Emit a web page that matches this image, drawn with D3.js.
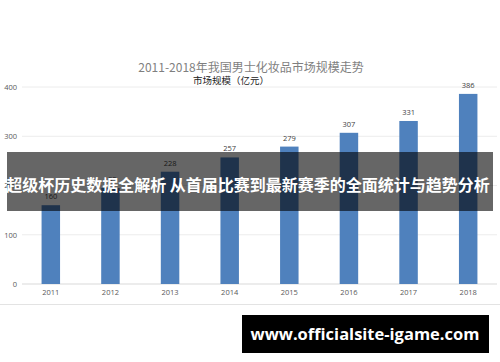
<!DOCTYPE html>
<html>
<head>
<meta charset="utf-8">
<script src="https://cdn.jsdelivr.net/npm/d3@7"></script>
<style>
  body { margin: 0; background: #fff; }
  svg { display: block; }
</style>
</head>
<body>
<svg id="chart" width="500" height="362"></svg>
<script>
const years = ["2011", "2012", "2013", "2014", "2015", "2016", "2017", "2018"];
const marketSize = [160, 195, 228, 257, 279, 307, 331, 386];
const yTicks = [0, 100, 200, 300, 400];
const chartTitle = "2011-2018年我国男士化妆品市场规模走势";
const seriesName = "市场规模（亿元）";
const bannerText = "超级杯历史数据全解析 从首届比赛到最新赛季的全面统计与趋势分析";
const siteText = "www.officialsite-igame.com";

const svg = d3.select("#chart");
const width = 500, height = 362;
const margin = {top: 87, right: 2, bottom: 78, left: 21};

const cjk = "'Noto Sans CJK SC', 'Noto Sans', sans-serif";
const latin = "'Open Sans', 'Liberation Sans', sans-serif";

const x = d3.scaleBand()
    .domain(years)
    .range([margin.left, width - margin.right])
    .paddingInner(0.69)
    .paddingOuter(0.345);

const y = d3.scaleLinear()
    .domain([0, 400])
    .range([height - margin.bottom, margin.top]);

// gridlines
svg.append("g")
    .selectAll("line")
    .data(yTicks)
    .join("line")
      .attr("x1", 22)
      .attr("x2", 497)
      .attr("y1", d => y(d))
      .attr("y2", d => y(d))
      .attr("stroke", d => d === 0 ? "#d9d9d9" : "#ececec")
      .attr("stroke-width", 1);

// y axis labels
const yAxis = d3.axisLeft(y).tickValues(yTicks).tickSize(0).tickPadding(0);
svg.append("g")
    .attr("transform", "translate(17,0)")
    .call(yAxis)
    .call(g => g.select(".domain").remove())
    .call(g => g.selectAll("text")
        .attr("fill", "#595959")
        .style("font-family", latin)
        .style("font-size", "7.5px"));

// x axis labels
const xAxis = d3.axisBottom(x).tickSize(0).tickPadding(0);
svg.append("g")
    .attr("transform", "translate(0," + (y(0) + 6) + ")")
    .call(xAxis)
    .call(g => g.select(".domain").remove())
    .call(g => g.selectAll("text")
        .attr("fill", "#595959")
        .style("font-family", latin)
        .style("font-size", "7.5px"));

// bars
svg.append("g")
    .selectAll("rect")
    .data(marketSize)
    .join("rect")
      .attr("x", (d, i) => x(years[i]))
      .attr("y", d => y(d))
      .attr("width", x.bandwidth())
      .attr("height", d => y(0) - y(d))
      .attr("fill", "#4f81bd");

// value labels
svg.append("g")
    .selectAll("text")
    .data(marketSize)
    .join("text")
      .attr("x", (d, i) => x(years[i]) + x.bandwidth() / 2)
      .attr("y", d => y(d) - 6)
      .attr("text-anchor", "middle")
      .attr("fill", "#404040")
      .style("font-family", latin)
      .style("font-size", "7.5px")
      .text(d => d);

// title and legend
svg.append("text")
    .attr("x", 251)
    .attr("y", 72)
    .attr("text-anchor", "middle")
    .attr("fill", "#7f7f7f")
    .style("font-family", cjk)
    .style("font-size", "12px")
    .text(chartTitle);

svg.append("text")
    .attr("x", 231)
    .attr("y", 84)
    .attr("text-anchor", "middle")
    .attr("fill", "#222")
    .style("font-family", cjk)
    .style("font-size", "9.5px")
    .text(seriesName);

// bottom frame line
svg.append("line")
    .attr("x1", 0).attr("x2", width)
    .attr("y1", 304.5).attr("y2", 304.5)
    .attr("stroke", "#e3e3e3");

// overlay banner
svg.append("rect")
    .attr("x", 7).attr("y", 152)
    .attr("width", 486).attr("height", 59)
    .attr("fill", "rgba(0,0,0,0.6)");

svg.append("text")
    .attr("x", 248)
    .attr("y", 191)
    .attr("text-anchor", "middle")
    .attr("fill", "#fff")
    .style("font-family", cjk)
    .style("font-weight", "bold")
    .style("font-size", "16px")
    .text(bannerText);

// site box
svg.append("rect")
    .attr("x", 242).attr("y", 315)
    .attr("width", 247).attr("height", 38)
    .attr("fill", "#000");

svg.append("text")
    .attr("x", 365)
    .attr("y", 340)
    .attr("text-anchor", "middle")
    .attr("fill", "#fff")
    .style("font-family", latin)
    .style("font-weight", "bold")
    .style("font-size", "16.5px")
    .text(siteText);
</script>
</body>
</html>
